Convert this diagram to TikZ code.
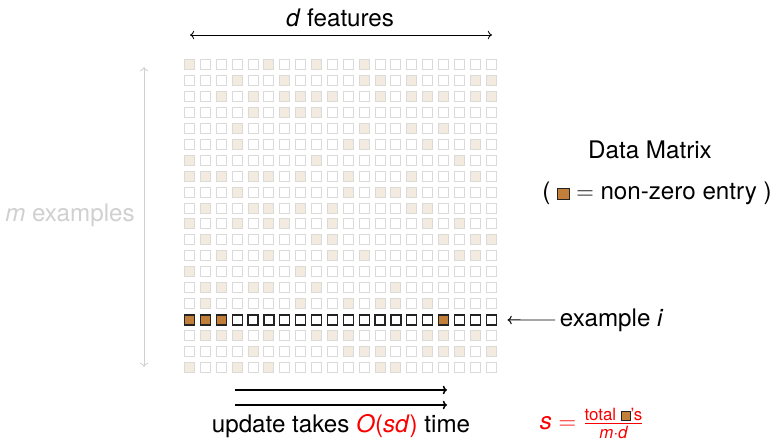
\documentclass[tikz,border=0pt]{standalone}
\usepackage{amsmath}
\usepackage{fontspec}
\setmainfont{TeX Gyre Heros}
\usetikzlibrary{arrows.meta}

\definecolor{nzbrown}{RGB}{193,127,58}
\definecolor{nzlight}{RGB}{243,235,224}
\definecolor{cellgray}{RGB}{218,218,218}
\definecolor{fadegray}{RGB}{208,208,208}
\definecolor{cellline}{RGB}{35,35,35}
\definecolor{hotred}{RGB}{250,0,0}

\newcommand{\nzbox}[1]{{\setlength\fboxsep{0pt}\setlength\fboxrule{0.6pt}%
    \fcolorbox{cellline}{nzbrown}{\rule{0pt}{#1}\hspace{#1}}}}

\tikzset{
  cell/.style={draw=cellgray, fill=white, line width=0.7pt,
    minimum size=0.25cm, inner sep=0pt},
  litcell/.style={cell, fill=nzlight},
  rowcell/.style={cell, draw=cellline, line width=0.9pt},
  nzcell/.style={rowcell, fill=nzbrown},
  txt/.style={font=\fontsize{17.2}{20}\selectfont},
  >={To[length=3pt,width=6pt]}
}

\begin{document}
\begin{tikzpicture}
      \useasboundingbox (0,0) rectangle (19.5,11);
      % the data matrix, m rows by d columns
      \foreach \r in {0,...,19} \foreach \c in {0,...,19}
        \node [cell] (cell-\r-\c) at (4.7375+0.397*\c, 9.4-0.4*\r) {};
      \foreach \r/\cols in {0/{0,5,8,11}, 1/{3,6,11,12,14,18,19},
          2/{2,4,6,7,8,9,12,14,15,16,18,19}, 3/{4,6,7,8}, 4/{3,11,14,16},
          5/{3,10,11,15,18}, 6/{0,8,17}, 7/{0,1,2,4,5,7,10,14,18},
          8/{3,10,12,13,14}, 9/{1,4,5,7,9,14,15}, 10/{0,3,5,6,9,15,17},
          11/{1,8,9,16,18,19}, 12/{2,5,9,11,17,18}, 13/{0,7},
          14/{1,2,4,5,8,13}, 15/{1,7,10,12,13,15},
          17/{1,2,3,5,8,9,10,13,15,16,18}, 18/{4,10,11,12,15,16,17,19},
          19/{0,3,5,12,13}}
        \foreach \c in \cols \node [litcell] (lit-\r-\c) at (cell-\r-\c) {};
      % example i
      \foreach \c in {0,...,19} \node [rowcell] (row-\c) at (cell-16-\c) {};
      \foreach \c in {0,1,2,16} \node [nzcell] (nz-\c) at (cell-16-\c) {};

      \coordinate (dleft) at (4.75,10.125); \coordinate (dright) at
      (12.3,10.125); \draw [<->, line width=0.6pt] (dleft) -- (dright);
      \node [txt] (dlabel) at (8.5,10.55) {\textit{d} features};

      \coordinate (mtop) at (3.6,9.325); \coordinate (mbot) at
      (3.6,1.825); \draw [<->, fadegray, line width=0.6pt] (mtop) -- (mbot);
      \node [txt, text=fadegray] (mlabel) at (1.75,5.625) {\textit{m} examples};

      \node [txt] (title) at (16.25,7.25) {Data Matrix};
      \node [txt] (legend) at (16.425,6.175) {( \nzbox{0.27cm} $=$ non-zero entry )};

      \node [txt, right] (exlabel) at (13.875,3.0) {example \textit{i}};
      \coordinate (extip) at ([xshift=0.27cm]cell-16-19.east);
      \draw [->, line width=0.7pt] (exlabel.west) -- (extip);

      \coordinate (upA) at (5.875,1.25); \coordinate (upB) at (11.175,1.25);
      \coordinate (loA) at (5.875,0.875); \coordinate (loB) at (11.175,0.875);
      \draw [->, line width=1.1pt] (upA) -- (upB);
      \draw [->, line width=1.1pt] (loA) -- (loB);
      \node [txt, anchor=base] (update) at (8.525,0.175) {update takes
        \textcolor{hotred}{\textit{O}(\textit{sd})} time};

      \node [txt, text=hotred] (sdef) at (14.8,0.42) {\textit{s} $=$
        $\genfrac{}{}{0.5pt}{}{\hbox{\fontsize{12}{13}\selectfont
            total \nzbox{0.2cm}'s}}{\hbox{\fontsize{12}{13}\selectfont\itshape m·d}}$};
\end{tikzpicture}
\end{document}
